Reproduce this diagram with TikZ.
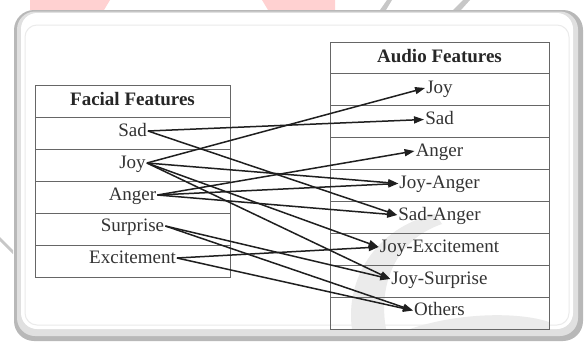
\documentclass[tikz,border=0pt]{standalone}
\usepackage{fontspec}
\setmainfont{Liberation Serif}
\usetikzlibrary{arrows.meta}
\begin{document}
\begin{tikzpicture}[x=1pt,y=-1pt,
  cell/.style={draw=black!60, line width=1pt},
  lbl/.style={text=black!80, font=\fontsize{19}{22}\selectfont, inner sep=1pt, text height=13pt, text depth=3pt, anchor=base},
  hdr/.style={lbl, text=black!85, font=\fontsize{19}{22}\selectfont\bfseries},
  conn/.style={draw=black!88, line width=1.5pt, -{Triangle[length=10pt,width=7pt]}},
  mark pink/.style={fill=red!18},
  mark grey/.style={fill=black!22}
]
\useasboundingbox (0,0) rectangle (584,343);
% watermark fragments outside the frame
\fill[mark pink] (30,0) -- (110,0) -- (104,10) -- (30,10) -- cycle;
\fill[mark pink] (262,0) -- (335,0) -- (335,10) -- (268,10) -- cycle;
\fill[mark grey] (380,10) -- (386,10) -- (392,0) -- (387,0) -- cycle;
\fill[mark grey] (453,10) -- (461,10) -- (470,0) -- (463,0) -- cycle;
\fill[mark grey] (0,237) -- (0,241) -- (13,254) -- (13,250) -- cycle;
% frame
\fill[black!28, rounded corners=20pt] (14,10) rectangle (583,341);
\fill[black!12, rounded corners=18pt] (17,11.5) rectangle (578,336);
\fill[white, rounded corners=16pt] (21,13) rectangle (573,329);
\draw[black!8, line width=1pt, rounded corners=12pt] (25,25) rectangle (569,325);
% swoosh watermark
\fill[black!8] (352,329) .. controls (345,280) and (375,228) .. (435,214)
  -- (442,224) .. controls (395,240) and (378,285) .. (386,329) -- cycle;
\fill[black!8] (410,329) .. controls (460,312) and (520,312) .. (549,322) -- (549,329) -- cycle;
% left table
\draw[cell] (35,85) rectangle (230,277);
\foreach \y in {117,149,181,213,245} \draw[cell] (35,\y) -- (230,\y);
% right table
\draw[cell] (330,42) rectangle (549,329);
\foreach \y in {73,105,137,169,201,233,265,297} \draw[cell] (330,\y) -- (549,\y);
% left labels
\node[hdr] (fH) at (132.5,105) {Facial Features};
\node[lbl] (fSad) at (132.5,136) {Sad};
\node[lbl] (fJoy) at (132.5,168) {Joy};
\node[lbl] (fAnger) at (132.5,200) {Anger};
\node[lbl] (fSurprise) at (132.5,231) {Surprise};
\node[lbl] (fExcite) at (132.5,263) {Excitement};
% right labels
\node[hdr] (aH) at (439.5,62) {Audio Features};
\node[lbl] (aJoy) at (439.5,93) {Joy};
\node[lbl] (aSad) at (439.5,124.5) {Sad};
\node[lbl] (aAnger) at (439.5,156) {Anger};
\node[lbl] (aJA) at (439.5,188.5) {Joy-Anger};
\node[lbl] (aSA) at (439.5,220) {Sad-Anger};
\node[lbl] (aJE) at (439.5,252) {Joy-Excitement};
\node[lbl] (aJS) at (439.5,284) {Joy-Surprise};
\node[lbl] (aOth) at (439.5,315.5) {Others};
% connectors
\draw[conn] (fSad.east) -- (aSad.west);
\draw[conn] (fSad.east) -- (aSA.west);
\draw[conn] (fJoy.east) -- (aJoy.west);
\draw[conn] (fJoy.east) -- (aJA.west);
\draw[conn] (fJoy.east) -- (aJE.west);
\draw[conn] (fJoy.east) -- (aJS.west);
\draw[conn] (fAnger.east) -- (aAnger.west);
\draw[conn] (fAnger.east) -- (aJA.west);
\draw[conn] (fAnger.east) -- (aSA.west);
\draw[conn] (fSurprise.east) -- (aJS.west);
\draw[conn] (fSurprise.east) -- (aOth.west);
\draw[conn] (fExcite.east) -- (aJE.west);
\draw[conn] (fExcite.east) -- (aOth.west);
\end{tikzpicture}
\end{document}
